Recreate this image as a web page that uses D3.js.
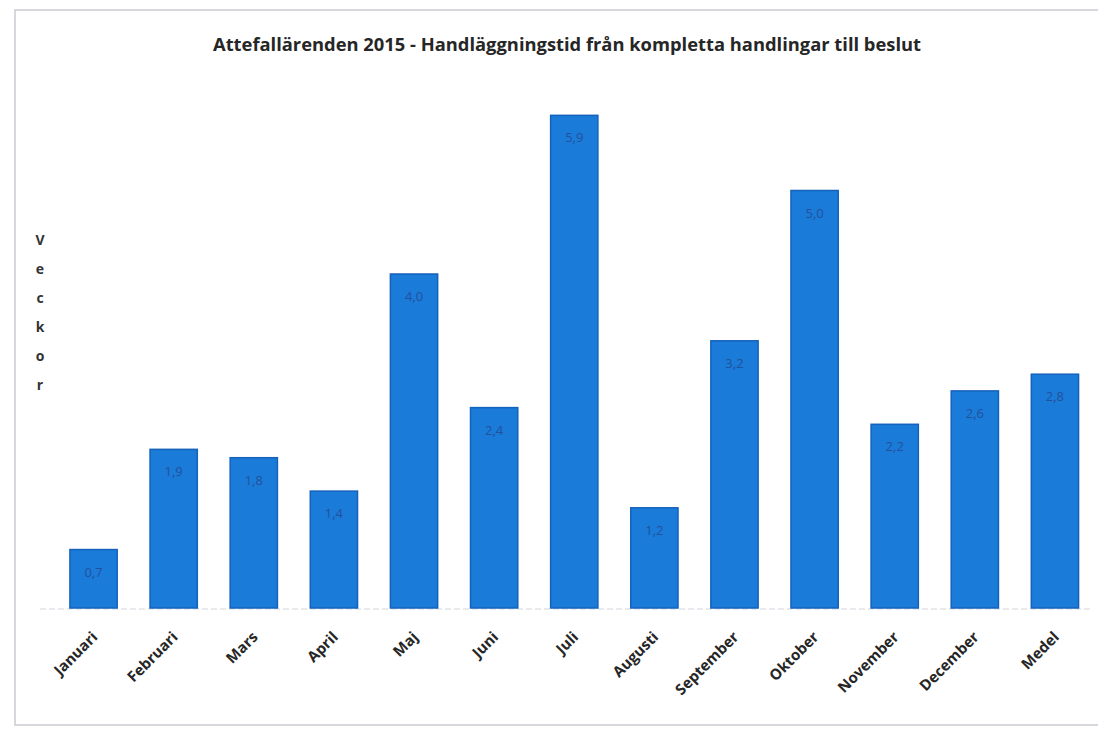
<!DOCTYPE html>
<html>
<head>
<meta charset="utf-8">
<script src="https://cdn.jsdelivr.net/npm/d3@7"></script>
<style>
  html, body { margin: 0; padding: 0; background: #fff; }
  svg { display: block; }
</style>
</head>
<body>
<svg id="chart" width="1098" height="733"></svg>
<script>
// Handläggningstid per månad (veckor)
const months = ["Januari", "Februari", "Mars", "April", "Maj", "Juni", "Juli",
                "Augusti", "September", "Oktober", "November", "December", "Medel"];
const weeks = [0.7, 1.9, 1.8, 1.4, 4.0, 2.4, 5.9, 1.2, 3.2, 5.0, 2.2, 2.6, 2.8];
const titleText = "Attefallärenden 2015 - Handläggningstid från kompletta handlingar till beslut";
const yTitle = "Veckor";

const svg = d3.select("#chart");
const font = "'Liberation Sans Narrow', 'Arial Narrow', 'Open Sans', sans-serif";

// light frame around the chart area
svg.append("path")
  .attr("d", "M1098,10 H15 V725 H1098")
  .attr("fill", "none")
  .attr("stroke", "#c9ccd2")
  .attr("stroke-width", 1.5);

const baseY = 608;
const x = d3.scaleBand()
  .domain(months)
  .range([53.5, 1095])
  .paddingInner(0.41)
  .paddingOuter(0.205);

const y = d3.scaleLinear()
  .domain([0, 6])
  .range([baseY, baseY - 6 * 83.5]);

// title
svg.append("text")
  .attr("x", 567)
  .attr("y", 51)
  .attr("text-anchor", "middle")
  .attr("font-family", font)
  .attr("font-weight", "bold")
  .attr("font-size", 18)
  .attr("fill", "#262626")
  .attr("textLength", 708)
  .attr("lengthAdjust", "spacingAndGlyphs")
  .text(titleText);

// vertical, stacked axis title
svg.append("g")
  .selectAll("text")
  .data(yTitle.split(""))
  .join("text")
  .attr("x", 40)
  .attr("y", (d, i) => 245 + i * 29)
  .attr("text-anchor", "middle")
  .attr("font-family", font)
  .attr("font-weight", "bold")
  .attr("font-size", 14)
  .attr("fill", "#333")
  .text(d => d);

// category axis line
const xAxis = d3.axisBottom(x).tickSize(0).tickFormat("");
const axisG = svg.append("g")
  .attr("transform", `translate(0,${baseY + 1})`)
  .call(xAxis);
axisG.select(".domain")
  .attr("d", "M40,0H1092")
  .attr("stroke", "#d3d6db")
  .attr("stroke-width", 1.2)
  .attr("stroke-dasharray", "6,3");

// bars
svg.append("g")
  .selectAll("rect")
  .data(weeks)
  .join("rect")
  .attr("x", (d, i) => x(months[i]))
  .attr("y", d => y(d))
  .attr("width", x.bandwidth())
  .attr("height", d => y(0) - y(d))
  .attr("fill", "#1a7bd8")
  .attr("stroke", "#1562bb")
  .attr("stroke-width", 1.5);

// value labels inside the bar tops
const fmt = d3.format(".1f");
svg.append("g")
  .selectAll("text")
  .data(weeks)
  .join("text")
  .attr("x", (d, i) => x(months[i]) + x.bandwidth() / 2)
  .attr("y", d => y(d) + 27)
  .attr("text-anchor", "middle")
  .attr("font-family", font)
  .attr("font-size", 13)
  .attr("fill", "#24519e")
  .text(d => fmt(d).replace(".", ","));

// rotated month labels
svg.append("g")
  .selectAll("text")
  .data(months)
  .join("text")
  .attr("transform", d => `translate(${x(d) + x.bandwidth() / 2 + 5},${baseY + 30}) rotate(-45)`)
  .attr("text-anchor", "end")
  .attr("font-family", font)
  .attr("font-weight", "bold")
  .attr("font-size", 15)
  .attr("fill", "#262626")
  .text(d => d);
</script>
</body>
</html>
